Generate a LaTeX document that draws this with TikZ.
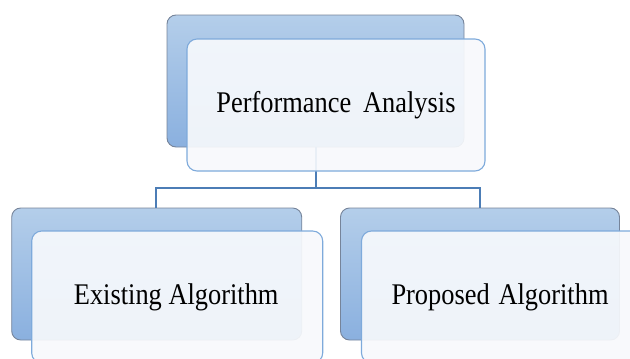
\documentclass[tikz,border=0pt]{standalone}
\usepackage{fontspec}
\setmainfont{Liberation Serif}
\usepackage{graphicx}
\definecolor{backtop}{HTML}{B4CEEA}
\definecolor{backbot}{HTML}{8AB0DF}
\definecolor{backline}{HTML}{76849A}
\definecolor{frontfill}{HTML}{F7F9FC}
\definecolor{frontline}{HTML}{7EAADB}
\definecolor{linkcol}{HTML}{4C7DB6}
\tikzset{
  backbox/.style={rounded corners=9pt, top color=backtop, bottom color=backbot,
    draw=backline, line width=0.9pt, inner sep=0pt},
  frontbox/.style={rounded corners=10pt, fill=frontfill, fill opacity=0.92,
    draw=frontline, line width=1.1pt, text opacity=1, inner sep=0pt,
    font=\fontsize{30}{34}\selectfont},
  link/.style={draw=linkcol, line width=2pt}
}
\newcommand{\squeezed}[1]{\scalebox{0.88}[1]{#1}}
\begin{document}
\begin{tikzpicture}[x=1pt,y=-1pt]
\useasboundingbox (0,0) rectangle (630,359);
% rear panels
\node[backbox, minimum width=297pt, minimum height=132pt] (topback) at (315.5,81) {};
\node[backbox, minimum width=290pt, minimum height=132pt] (leftback) at (156.7,274) {};
\node[backbox, minimum width=279pt, minimum height=132pt] (rightback) at (480,274) {};
% tree connectors
\coordinate (bus) at (315.5,188);
\draw[link] (topback.south) -- (bus);
\draw[link] (leftback.north) ++(-1,0) |- (bus) -| (rightback.north);
% front panels with labels
\node[frontbox, minimum width=298pt, minimum height=132pt] (topfront) at (336,105)
  {\squeezed{Performance\hspace{0.2em} Analysis}};
\node[frontbox, minimum width=291pt, minimum height=132pt] (leftfront) at (177.2,297)
  {\hspace{-2pt}\squeezed{Existing Algorithm}};
\node[frontbox, minimum width=279pt, minimum height=132pt, text width=279pt, align=left] (rightfront) at (501,297)
  {\hspace{30pt}\squeezed{Proposed Algorithm}};
\end{tikzpicture}
\end{document}
